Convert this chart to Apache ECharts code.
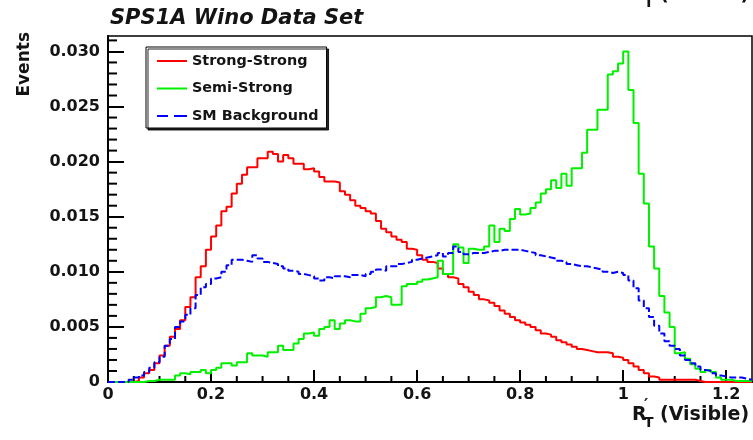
<!DOCTYPE html>
<html>
<head>
<meta charset="utf-8">
<script src="https://cdn.jsdelivr.net/npm/echarts@6/dist/echarts.min.js"></script>
<style>
  html, body { margin: 0; padding: 0; background: #fff; }
  #chart { width: 753px; height: 440px; }
</style>
</head>
<body>
<div id="chart"></div>
<script>
// Histogram binning: 125 bins of width 0.01 on [0, 1.25]
const binWidth = 0.01;
const xMin = 0;
const xMax = 1.25;

// Normalised event fractions per bin
const strongStrong = [
  0, 0, 0, 0, 0, 0.0001, 0.0004, 0.0008, 0.0011, 0.0017,
  0.0024, 0.0033, 0.0041, 0.0048, 0.0056, 0.0068, 0.0077, 0.0095, 0.0105, 0.0120,
  0.0132, 0.0142, 0.0155, 0.0159, 0.0171, 0.0180, 0.0188, 0.0195, 0.0195, 0.0203,
  0.0203, 0.0209, 0.0207, 0.0200, 0.0206, 0.0203, 0.0198, 0.0198, 0.0193, 0.0194,
  0.0191, 0.0186, 0.0182, 0.0182, 0.0181, 0.0173, 0.0170, 0.0165, 0.0160, 0.0158,
  0.0155, 0.0153, 0.0146, 0.0139, 0.0136, 0.0132, 0.0129, 0.0127, 0.0121, 0.0120,
  0.0115, 0.0111, 0.0109, 0.0108, 0.0103, 0.0098, 0.0095, 0.0094, 0.0089, 0.0086,
  0.0082, 0.0079, 0.0075, 0.0074, 0.0072, 0.0069, 0.0065, 0.0062, 0.0059, 0.0056,
  0.0054, 0.0052, 0.0050, 0.0047, 0.0044, 0.0043, 0.0041, 0.0038, 0.0036, 0.0034,
  0.0032, 0.0030, 0.0029, 0.0028, 0.0027, 0.0027, 0.0027, 0.0026, 0.0023, 0.0022,
  0.0020, 0.0017, 0.0014, 0.0011, 0.0008, 0.0005, 0.0004, 0.0002, 0.0002, 0.0002,
  0.0002, 0.0002, 0.0002, 0.0002, 0.0001, 0, 0, 0, 0, 0,
  0, 0, 0, 0, 0
];

const semiStrong = [
  0, 0, 0, 0, 0, 0, 0, 0.0001, 0.0001, 0.0002,
  0.0002, 0.0002, 0.0002, 0.0006, 0.0008, 0.0007, 0.0009, 0.0009, 0.0011, 0.0008,
  0.0011, 0.0013, 0.0017, 0.0017, 0.0015, 0.0018, 0.0018, 0.0026, 0.0024, 0.0024,
  0.0023, 0.0027, 0.0027, 0.0033, 0.0029, 0.0029, 0.0035, 0.0039, 0.0044, 0.0045,
  0.0042, 0.0048, 0.0050, 0.0056, 0.0048, 0.0053, 0.0056, 0.0055, 0.0055, 0.0062,
  0.0067, 0.0068, 0.0077, 0.0078, 0.0077, 0.0070, 0.0070, 0.0087, 0.0089, 0.0089,
  0.0091, 0.0093, 0.0094, 0.0095, 0.0110, 0.0098, 0.0098, 0.0125, 0.0122, 0.0108,
  0.0121, 0.0120, 0.0120, 0.0123, 0.0142, 0.0127, 0.0139, 0.0137, 0.0148, 0.0157,
  0.0152, 0.0153, 0.0158, 0.0163, 0.0171, 0.0175, 0.0183, 0.0176, 0.0189, 0.0178,
  0.0194, 0.0194, 0.0208, 0.0229, 0.0229, 0.0247, 0.0247, 0.0279, 0.0282, 0.0289,
  0.0300, 0.0265, 0.0235, 0.0189, 0.0162, 0.0123, 0.0103, 0.0078, 0.0063, 0.0050,
  0.0026, 0.0027, 0.0021, 0.0016, 0.0012, 0.0009, 0.0011, 0.0009, 0.0004, 0.0002,
  0.0002, 0.0001, 0.0001, 0.0001, 0.0001
];

const smBackground = [
  0, 0, 0, 0, 0.0002, 0.0004, 0.0006, 0.0009, 0.0013, 0.0018,
  0.0023, 0.0033, 0.0039, 0.0050, 0.0055, 0.0061, 0.0067, 0.0079, 0.0086, 0.0089,
  0.0094, 0.0095, 0.0100, 0.0106, 0.0111, 0.0111, 0.0110, 0.0109, 0.0115, 0.0112,
  0.0109, 0.0108, 0.0107, 0.0105, 0.0103, 0.0101, 0.0100, 0.0098, 0.0097, 0.0096,
  0.0094, 0.0092, 0.0095, 0.0094, 0.0096, 0.0096, 0.0095, 0.0097, 0.0097, 0.0096,
  0.0098, 0.0100, 0.0102, 0.0101, 0.0105, 0.0105, 0.0107, 0.0108, 0.0109, 0.0111,
  0.0112, 0.0113, 0.0114, 0.0115, 0.0117, 0.0114, 0.0117, 0.0123, 0.0118, 0.0116,
  0.0117, 0.0117, 0.0117, 0.0118, 0.0119, 0.0119, 0.0120, 0.0120, 0.0120, 0.0120,
  0.0119, 0.0118, 0.0117, 0.0115, 0.0114, 0.0113, 0.0112, 0.0110, 0.0109, 0.0107,
  0.0106, 0.0105, 0.0105, 0.0104, 0.0103, 0.0102, 0.0100, 0.0099, 0.0100, 0.0099,
  0.0097, 0.0092, 0.0085, 0.0074, 0.0067, 0.0059, 0.0051, 0.0044, 0.0037, 0.0033,
  0.0030, 0.0024, 0.0020, 0.0017, 0.0014, 0.0011, 0.0010, 0.0008, 0.0006, 0.0005,
  0.0004, 0.0004, 0.0004, 0.0003, 0.0002
];

const seriesNames = ['Strong-Strong', 'Semi-Strong', 'SM Background'];
const seriesColors = ['#ff0000', '#00f000', '#0000ff'];

const yMax = 0.0314;
const yTickStep = 0.005;
const yMinorStep = 0.001;
const xTickStep = 0.2;
const xMinorStep = 0.05;

const FONT = '"DejaVu Sans", "Liberation Sans", sans-serif';
const INK = '#141414';

// Each bin becomes a point at its lower edge; a closing point at the upper edge
function histPoints(values) {
  const pts = values.map((v, i) => [+(xMin + i * binWidth).toFixed(4), v]);
  pts.push([xMax, values[values.length - 1]]);
  return pts;
}

function histSeries(name, values, color, dashed) {
  return {
    name: name,
    type: 'line',
    step: 'end',
    data: histPoints(values),
    symbol: 'none',
    showSymbol: false,
    clip: true,
    lineStyle: { color: color, width: 2, type: dashed ? [7, 3] : 'solid' },
    itemStyle: { color: color },
    emphasis: { disabled: true }
  };
}

// Minor division positions between the labelled ticks
function minorPositions(lo, hi, step, major) {
  const out = [];
  const n = Math.floor((hi - lo) / step + 1e-9);
  for (let i = 1; i <= n; i++) {
    const v = +(lo + i * step).toFixed(6);
    const r = v / major;
    if (Math.abs(r - Math.round(r)) > 1e-6 && v < hi) out.push(v);
  }
  return out;
}

// Short inward tick marks placed through the cartesian coordinate system
function minorTickSeries(positions, alongX, len) {
  return {
    type: 'custom',
    silent: true,
    clip: false,
    z: 3,
    data: positions.map((v) => (alongX ? [v, 0] : [xMin, v])),
    renderItem: (params, api) => {
      const p = api.coord([api.value(0), api.value(1)]);
      const shape = alongX
        ? { x1: p[0], y1: p[1], x2: p[0], y2: p[1] - len }
        : { x1: p[0], y1: p[1], x2: p[0] + len, y2: p[1] };
      return { type: 'line', shape: shape, style: { stroke: '#000', lineWidth: 2, fill: null } };
    }
  };
}

// R'_T (Visible) label, built from separate pieces for the prime and subscript
function rtTitle(x, y) {
  const f = (size) => 'bold ' + size + 'px ' + FONT;
  return {
    type: 'group', x: x, y: y, silent: true,
    children: [
      { type: 'text', x: 0, y: 0, style: { text: 'R', font: f(19), fill: INK, textVerticalAlign: 'top' } },
      { type: 'text', x: 12, y: -8, style: { text: '\u2032', font: f(16), fill: INK, textVerticalAlign: 'top' } },
      { type: 'text', x: 12, y: 10, style: { text: 'T', font: f(14), fill: INK, textVerticalAlign: 'top' } },
      { type: 'text', x: 28, y: 0, style: { text: '(Visible)', font: f(19), fill: INK, textVerticalAlign: 'top' } }
    ]
  };
}

const chart = echarts.init(document.getElementById('chart'), null, { renderer: 'canvas' });

const legendIcons = [
  'path://M0,0H30V2H0Z',
  'path://M0,0H30V2H0Z',
  'path://M0,0H11V2H0Z M17,0H30V2H17Z'
];

chart.setOption({
  animation: false,
  backgroundColor: '#ffffff',
  grid: {
    left: 108, right: 1, top: 36, bottom: 58,
    show: true, borderColor: '#000', borderWidth: 1.5, backgroundColor: 'rgba(0,0,0,0)'
  },
  legend: {
    orient: 'vertical',
    left: 146, top: 47,
    padding: [7, 8, 5, 11],
    itemWidth: 30, itemHeight: 14, itemGap: 13.5,
    backgroundColor: '#fff',
    borderColor: '#000', borderWidth: 1,
    shadowColor: 'rgba(0,0,0,0.85)', shadowOffsetX: 2, shadowOffsetY: 2, shadowBlur: 0,
    selectedMode: false,
    textStyle: { fontFamily: FONT, fontWeight: 'bold', fontSize: 14.4, color: INK, lineHeight: 14 },
    data: seriesNames.map((n, i) => ({
      name: n, icon: legendIcons[i], itemStyle: { color: seriesColors[i] }
    }))
  },
  xAxis: {
    type: 'value', min: xMin, max: xMax, interval: xTickStep, position: 'bottom',
    axisLine: { show: true, onZero: false, lineStyle: { color: '#000', width: 2 } },
    axisTick: { show: true, inside: true, length: 12, lineStyle: { color: '#000', width: 2 } },
    axisLabel: {
      show: true, showMaxLabel: false, margin: 5,
      fontFamily: FONT, fontWeight: 'bold', fontSize: 16, color: INK,
      formatter: (v) => String(+v.toFixed(2))
    },
    splitLine: { show: false }
  },
  yAxis: {
    type: 'value', min: 0, max: yMax, interval: yTickStep, position: 'left',
    axisLine: { show: true, onZero: false, lineStyle: { color: '#000', width: 2 } },
    axisTick: { show: true, inside: true, length: 16, lineStyle: { color: '#000', width: 2 } },
    axisLabel: {
      show: true, showMaxLabel: false, margin: 8,
      fontFamily: FONT, fontWeight: 'bold', fontSize: 16, color: INK,
      formatter: (v) => (v === 0 ? '0' : v.toFixed(3))
    },
    splitLine: { show: false }
  },
  graphic: [
    {
      type: 'text', left: 110, top: 8, silent: true,
      style: { text: 'SPS1A Wino Data Set', font: 'italic bold 21px ' + FONT, fill: INK }
    },
    {
      type: 'text', x: 25, y: 32, rotation: Math.PI / 2, silent: true,
      style: { text: 'Events', font: 'bold 17px ' + FONT, fill: INK, textAlign: 'right', textVerticalAlign: 'middle' }
    },
    rtTitle(632, 406),
    rtTitle(632, -14)
  ],
  series: [
    histSeries(seriesNames[0], strongStrong, seriesColors[0], false),
    histSeries(seriesNames[1], semiStrong, seriesColors[1], false),
    histSeries(seriesNames[2], smBackground, seriesColors[2], true),
    minorTickSeries(minorPositions(xMin, xMax, xMinorStep, xTickStep), true, 6),
    minorTickSeries(minorPositions(0, yMax, yMinorStep, yTickStep), false, 9)
  ]
});
</script>
</body>
</html>
